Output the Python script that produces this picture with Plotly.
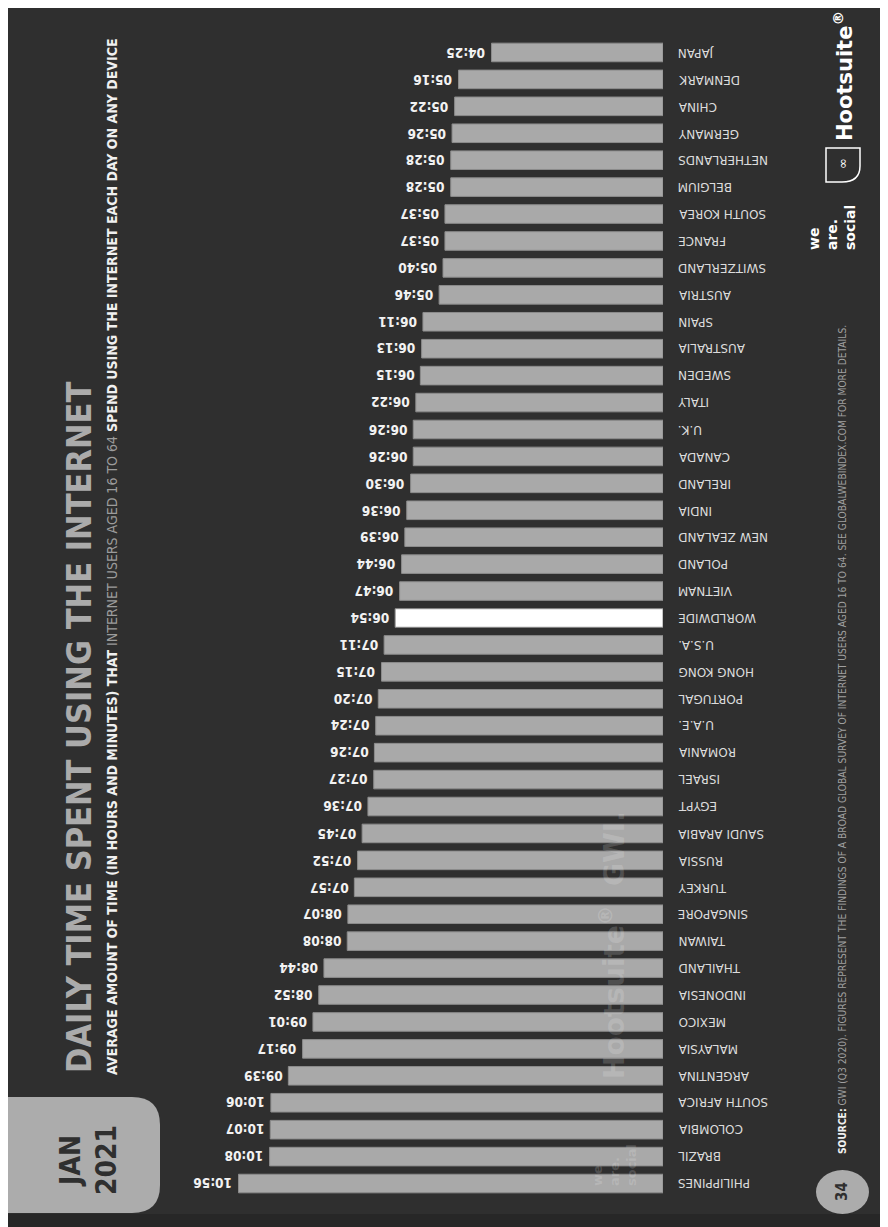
import plotly.graph_objects as go

# ---------------- data ----------------
countries = [
    "JAPAN", "DENMARK", "CHINA", "GERMANY", "NETHERLANDS", "BELGIUM", "SOUTH KOREA",
    "FRANCE", "SWITZERLAND", "AUSTRIA", "SPAIN", "AUSTRALIA", "SWEDEN", "ITALY",
    "U.K.", "CANADA", "IRELAND", "INDIA", "NEW ZEALAND", "POLAND", "VIETNAM",
    "WORLDWIDE", "U.S.A.", "HONG KONG", "PORTUGAL", "U.A.E.", "ROMANIA", "ISRAEL",
    "EGYPT", "SAUDI ARABIA", "RUSSIA", "TURKEY", "SINGAPORE", "TAIWAN", "THAILAND",
    "INDONESIA", "MEXICO", "MALAYSIA", "ARGENTINA", "SOUTH AFRICA", "COLOMBIA",
    "BRAZIL", "PHILIPPINES",
]
time_labels = [
    "04:25", "05:16", "05:22", "05:26", "05:28", "05:28", "05:37",
    "05:37", "05:40", "05:46", "06:11", "06:13", "06:15", "06:22",
    "06:26", "06:26", "06:30", "06:36", "06:39", "06:44", "06:47",
    "06:54", "07:11", "07:15", "07:20", "07:24", "07:26", "07:27",
    "07:36", "07:45", "07:52", "07:57", "08:07", "08:08", "08:44",
    "08:52", "09:01", "09:17", "09:39", "10:06", "10:07",
    "10:08", "10:56",
]
minutes = [int(t.split(":")[0]) * 60 + int(t.split(":")[1]) for t in time_labels]
highlight = "WORLDWIDE"

# ---------------- layout geometry ----------------
W, H = 888, 1227
OFF = 8                      # page offset of the figure (body margin)
ML, MR, MT, MB = 182, 233, 31, 38
PW, PH = W - ML - MR, H - MT - MB


def X(px):
    """page pixel x -> paper coordinate"""
    return (px - OFF - ML) / PW


def Y(py):
    """page pixel y -> paper coordinate"""
    return (H - MB - (py - OFF)) / PH


BG = "#2f2f2f"
BAR = "#a9a9a9"
COND = "DejaVu Sans Condensed, DejaVu Sans, sans-serif"
WIDE = "DejaVu Sans, sans-serif"

colors = ["#ffffff" if c == highlight else BAR for c in countries]

fig = go.Figure(go.Bar(
    x=minutes, y=countries, orientation="h",
    marker=dict(color=colors, line=dict(color="#8c8c8c", width=1)),
    hoverinfo="skip",
))

annotations = []
for c, m, t in zip(countries, minutes, time_labels):
    annotations.append(dict(
        x=m, y=c, xref="x", yref="y", text=t, showarrow=False,
        xanchor="right", yanchor="middle", xshift=-4, textangle=180,
        font=dict(family=COND, size=13.5, color="#f2f2f2", weight="bold"),
    ))
    annotations.append(dict(
        x=0, y=c, xref="x", yref="y", text=c, showarrow=False,
        xanchor="left", yanchor="middle", xshift=13, textangle=180,
        font=dict(family=WIDE, size=12, color="#dcdcdc"),
    ))

# Title and subtitle (vertical, reading bottom to top)
annotations.append(dict(
    x=X(79), y=Y(727), xref="paper", yref="paper", showarrow=False,
    text="DAILY TIME SPENT USING THE INTERNET", textangle=-90,
    xanchor="center", yanchor="middle",
    font=dict(family=COND, size=34, color="#ababab", weight="bold"),
))
annotations.append(dict(
    x=X(112), y=Y(557), xref="paper", yref="paper", showarrow=False,
    text=("<b>AVERAGE AMOUNT OF TIME (IN HOURS AND MINUTES) THAT</b> "
          "<span style='color:#9c9c9c'>INTERNET USERS AGED 16 TO 64</span> "
          "<b>SPEND USING THE INTERNET EACH DAY ON ANY DEVICE</b>"),
    textangle=-90, xanchor="center", yanchor="middle",
    font=dict(family=COND, size=14, color="#f0f0f0"),
))

# JAN 2021 badge
annotations.append(dict(
    x=X(88), y=Y(1160), xref="paper", yref="paper", showarrow=False,
    text="JAN<br>2021", textangle=-90, xanchor="center", yanchor="middle",
    font=dict(family=COND, size=28, color="#2f2f2f", weight="bold"),
))

# Page number
annotations.append(dict(
    x=X(842), y=Y(1192), xref="paper", yref="paper", showarrow=False,
    text="34", textangle=-90, xanchor="center", yanchor="middle",
    font=dict(family=COND, size=15, color="#2f2f2f", weight="bold"),
))

# Source note
annotations.append(dict(
    x=X(842), y=Y(740), xref="paper", yref="paper", showarrow=False,
    text=("<b>SOURCE:</b> <span style='color:#a0a0a0'>GWI (Q3 2020). FIGURES REPRESENT THE FINDINGS OF A BROAD "
          "GLOBAL SURVEY OF INTERNET USERS AGED 16 TO 64. SEE GLOBALWEBINDEX.COM FOR MORE DETAILS.</span>"),
    textangle=-90, xanchor="center", yanchor="middle",
    font=dict(family=COND, size=10.2, color="#f0f0f0"),
))

# Logos
annotations.append(dict(
    x=X(843), y=Y(76), xref="paper", yref="paper", showarrow=False,
    text="Hootsuite<sup>®</sup>", textangle=-90, xanchor="center", yanchor="middle",
    font=dict(family=WIDE, size=21, color="#ffffff", weight="bold"),
))
annotations.append(dict(
    x=X(842), y=Y(164), xref="paper", yref="paper", showarrow=False,
    text="∞", textangle=-90, xanchor="center", yanchor="middle",
    font=dict(family=WIDE, size=13, color="#ffffff"),
))
annotations.append(dict(
    x=X(832), y=Y(228), xref="paper", yref="paper", showarrow=False,
    text="we<br>are.<br>social", textangle=-90, xanchor="center", yanchor="middle",
    align="left",
    font=dict(family=WIDE, size=14, color="#ffffff", weight="bold"),
))

# Faint watermark over the bars
annotations.append(dict(
    x=X(612), y=Y(945), xref="paper", yref="paper", showarrow=False,
    text="Hootsuite<sup>®</sup>  GWI.", textangle=-90, xanchor="center", yanchor="middle",
    font=dict(family=WIDE, size=28, color="rgba(255,255,255,0.16)", weight="bold"),
))
annotations.append(dict(
    x=X(614), y=Y(1165), xref="paper", yref="paper", showarrow=False,
    text="we<br>are.<br>social", textangle=-90, xanchor="center", yanchor="middle",
    align="left",
    font=dict(family=WIDE, size=13, color="rgba(255,255,255,0.16)", weight="bold"),
))

# Shapes: bottom strip, badge, page circle, owl outline
bx0, bx1, by0, by1, r = 0, 160, 1097, 1213, 28
badge_path = (
    f"M {X(bx0)},{Y(by0)} L {X(bx1 - r)},{Y(by0)} Q {X(bx1)},{Y(by0)} {X(bx1)},{Y(by0 + r)} "
    f"L {X(bx1)},{Y(by1 - r)} Q {X(bx1)},{Y(by1)} {X(bx1 - r)},{Y(by1)} L {X(bx0)},{Y(by1)} Z"
)
ox0, ox1, oy0, oy1 = 826, 860, 148, 182
owl_path = (
    f"M {X(ox0)},{Y(oy0)} L {X(ox1)},{Y(oy0)} L {X(ox1)},{Y(oy1 - 16)} "
    f"Q {X(ox1)},{Y(oy1)} {X(ox1 - 18)},{Y(oy1)} L {X(ox0)},{Y(oy1)} Z"
)
shapes = [
    dict(type="rect", xref="paper", yref="paper", layer="below",
         x0=X(0), x1=X(W + OFF), y0=Y(1214), y1=Y(H + OFF),
         fillcolor="#272727", line=dict(width=0)),
    dict(type="path", xref="paper", yref="paper", path=badge_path, layer="below",
         fillcolor="#acacac", line=dict(width=0)),
    dict(type="circle", xref="paper", yref="paper", layer="below",
         x0=X(816), x1=X(869), y0=Y(1170), y1=Y(1214),
         fillcolor="#acacac", line=dict(width=0)),
    dict(type="path", xref="paper", yref="paper", path=owl_path, layer="above",
         fillcolor="rgba(0,0,0,0)", line=dict(color="#ffffff", width=1.5)),
]

fig.update_layout(
    width=W, height=H,
    margin=dict(l=ML, r=MR, t=MT, b=MB, pad=0),
    paper_bgcolor=BG, plot_bgcolor="rgba(0,0,0,0)",
    showlegend=False, bargap=0.31,
    xaxis=dict(range=[731, 0], visible=False, fixedrange=True),
    yaxis=dict(categoryorder="array", categoryarray=countries,
               range=[len(countries) - 0.5, -0.5], visible=False, fixedrange=True),
    annotations=annotations, shapes=shapes,
)

fig.write_html("out.html")
